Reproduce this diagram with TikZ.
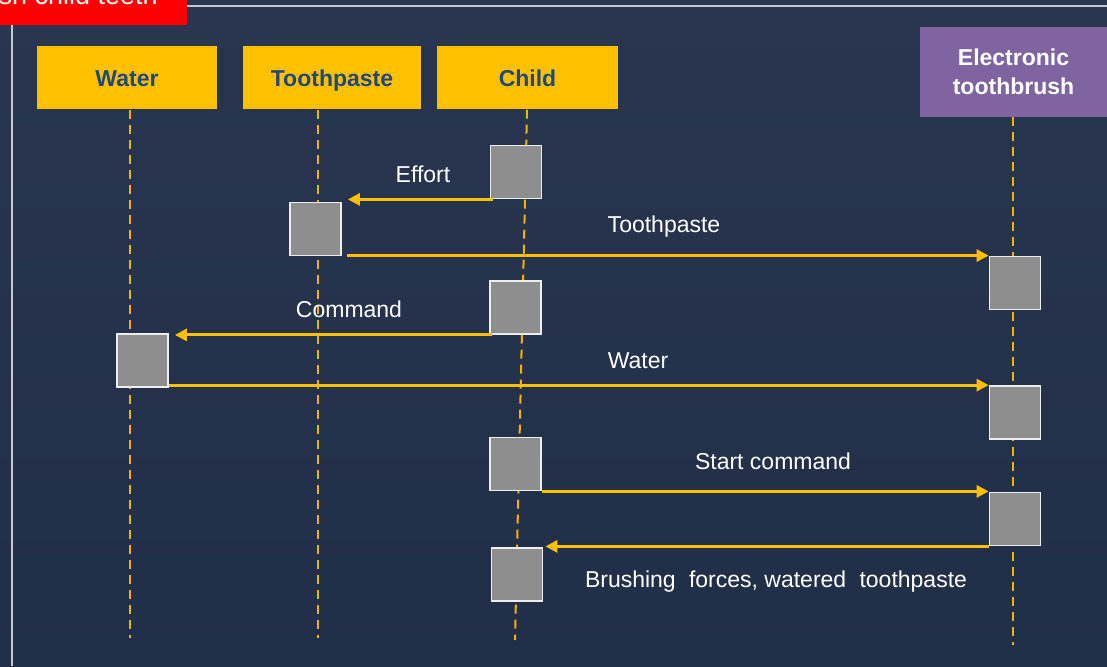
\documentclass[tikz,border=0pt]{standalone}
\usepackage{fontspec}
\setmainfont{Liberation Sans}
\usetikzlibrary{arrows.meta,calc}

\definecolor{bgtop}{HTML}{2A3650}
\definecolor{bgbottom}{HTML}{212E48}
\definecolor{gold}{HTML}{FFC000}
\definecolor{lifegold}{HTML}{F0B400}
\definecolor{hdrblue}{HTML}{1F497D}
\definecolor{purplehdr}{HTML}{8064A2}
\definecolor{actgray}{HTML}{8E8E8E}
\definecolor{actedge}{HTML}{EDEDED}
\definecolor{titlered}{HTML}{FF0000}
\definecolor{frameline}{HTML}{C4C8D0}

\tikzset{
  header/.style={fill=gold, draw=none, inner sep=0pt, minimum height=63pt,
    font=\fontsize{23}{27}\selectfont\bfseries, text=hdrblue,
    text height=16.5pt, text depth=0pt},
  actbox/.style={fill=actgray, draw=actedge, line width=1.8pt,
    minimum width=51pt, minimum height=53pt, inner sep=0pt},
  lifeline/.style={draw=lifegold, line width=2pt, dash pattern=on 9pt off 6pt},
  msg/.style={draw=gold, line width=2.9pt, -{Triangle[length=12pt,width=12pt]}},
  msglabel/.style={text=white, font=\fontsize{23}{27}\selectfont, inner sep=0pt},
}

\begin{document}
\begin{tikzpicture}[x=1pt,y=-1pt]
  % canvas and background
  \useasboundingbox (0,0) rectangle (1107,666);
  \clip (0,0) rectangle (1107,666);
  \shade[top color=bgtop, bottom color=bgbottom] (0,0) rectangle (1107,666);

  % slide frame and title tab
  \draw[frameline, line width=2pt] (187,6) -- (1107,6);
  \draw[frameline, line width=2pt] (12,25) -- (12,666);
  \fill[titlered] (0,-5) rectangle (187,25);
  \node[anchor=base east, text=white, inner sep=0pt,
        font=\fontsize{27}{30}\selectfont] (title) at (158,5) {Brush child teeth};

  % participants
  \node[header, minimum width=180pt] (water) at (127,78) {Water};
  \node[header, minimum width=178pt] (paste) at (332,78) {Toothpaste};
  \node[header, minimum width=181pt] (child) at (527.5,78) {Child};
  \node[fill=purplehdr, text=white, inner sep=0pt, align=center,
        font=\fontsize{23}{29}\selectfont\bfseries,
        minimum width=187pt, minimum height=90pt]
       (brush) at (1013.5,72) {Electronic\\toothbrush};

  % lifelines
  \coordinate (wEnd) at (130,638);
  \coordinate (pEnd) at (318,638);
  \coordinate (cEnd) at (515,640);
  \coordinate (bEnd) at (1013,645);
  \draw[lifeline] (water.south -| wEnd) -- (wEnd);
  \draw[lifeline] (paste.south -| pEnd) -- (pEnd);
  \draw[lifeline] ([xshift=-0.5pt]child.south) -- (cEnd);
  \draw[lifeline] (brush.south -| bEnd) -- (bEnd);

  % activation boxes
  \node[actbox] (c1) at (516,172) {};
  \node[actbox] (t1) at (315.5,229) {};
  \node[actbox] (e1) at (1015,283) {};
  \node[actbox] (c2) at (515.5,307.5) {};
  \node[actbox] (w1) at (142.5,360.5) {};
  \node[actbox] (e2) at (1015,412.5) {};
  \node[actbox] (c3) at (515.5,464) {};
  \node[actbox] (e3) at (1015,519) {};
  \node[actbox] (c4) at (517,574.5) {};

  % messages
  \draw[msg] ([xshift=3pt]c1.south west) -- ([xshift=6pt]c1.south west -| t1.east);
  \draw[msg] ([xshift=5pt]t1.east |- e1.north west) -- (e1.north west);
  \draw[msg] ([xshift=3pt]c2.south west) -- ([xshift=6pt]c2.south west -| w1.east);
  \draw[msg] (w1.east |- e2.north west) -- (e2.north west);
  \draw[msg] (c3.south east) -- (c3.south east -| e3.west);
  \draw[msg] (e3.south west) -- ([xshift=2pt]e3.south west -| c4.east);

  % message labels
  \node[msglabel] (l1) at (423,174) {Effort};
  \node[msglabel] (l2) at (664,227) {Toothpaste};
  \node[msglabel] (l3) at (349,309) {Command};
  \node[msglabel] (l4) at (638,361) {Water};
  \node[msglabel] (l5) at (773,461) {Start command};
  \node[msglabel] (l6) at (776,582) {Brushing\hspace{0.3em} forces, watered\hspace{0.3em} toothpaste};
\end{tikzpicture}
\end{document}
